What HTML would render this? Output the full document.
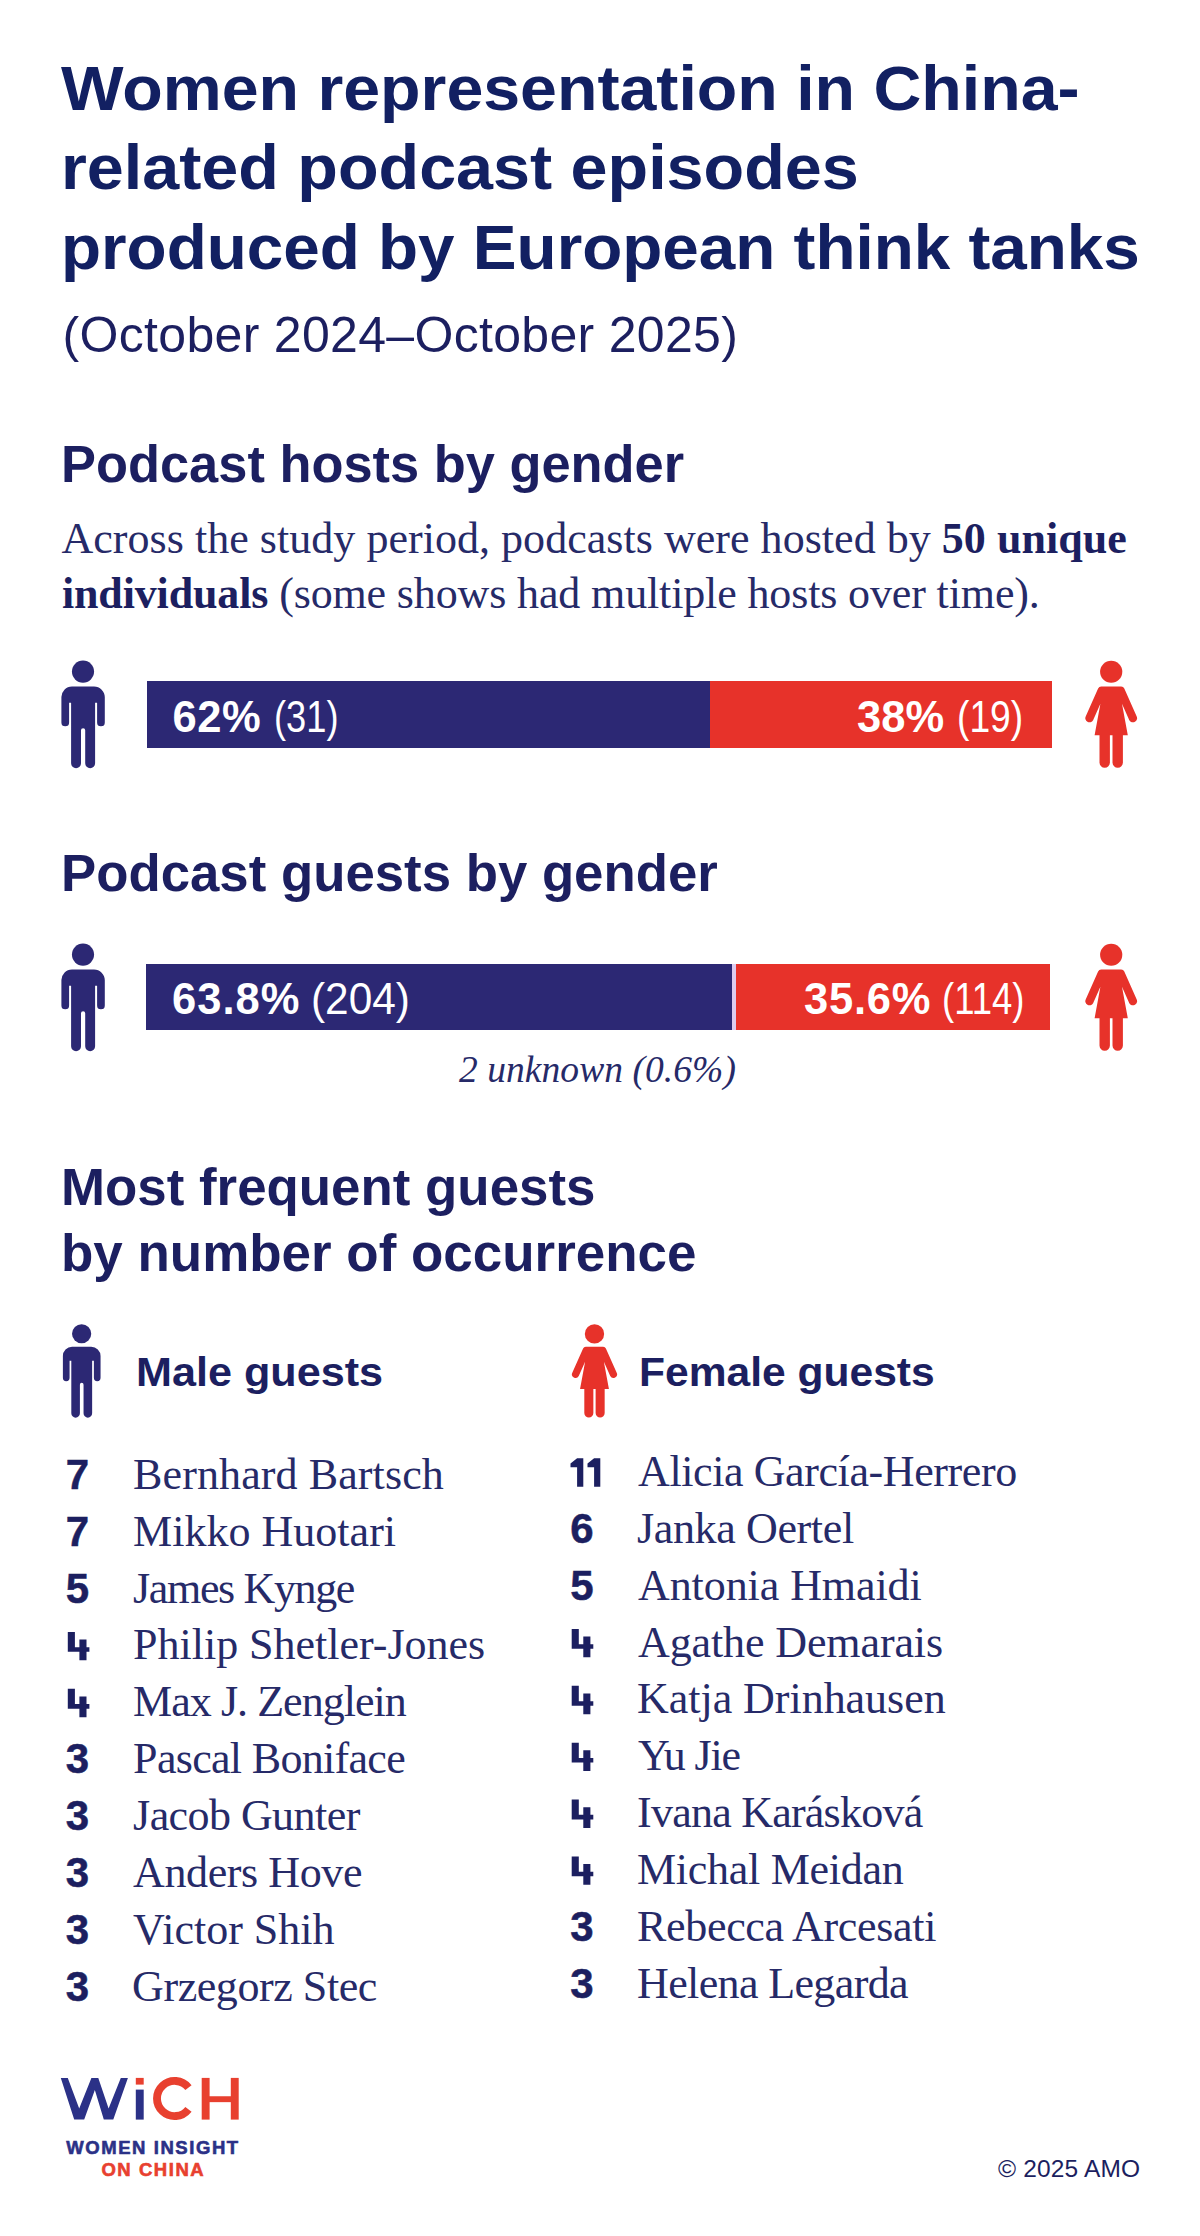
<!DOCTYPE html>
<html><head><meta charset="utf-8"><title>Women representation in China-related podcast episodes</title>
<style>
html,body{margin:0;padding:0;background:#fff;}
body{width:1200px;height:2236px;position:relative;overflow:hidden;font-family:'Liberation Sans', sans-serif;}
.t{position:absolute;white-space:nowrap;}
b{font-weight:700;}
</style></head><body>
<div class="t" style="left:60.75px;top:56.67px;font-family:'Liberation Sans', sans-serif;font-size:62.5px;line-height:62.5px;font-weight:700;font-style:normal;color:#122062;letter-spacing:0.000px;transform:scaleX(1.0602);transform-origin:0 0;">Women representation in China-</div>
<div class="t" style="left:60.50px;top:136.27px;font-family:'Liberation Sans', sans-serif;font-size:62.5px;line-height:62.5px;font-weight:700;font-style:normal;color:#122062;letter-spacing:0.000px;transform:scaleX(1.0632);transform-origin:0 0;">related podcast episodes</div>
<div class="t" style="left:60.50px;top:216.47px;font-family:'Liberation Sans', sans-serif;font-size:62.5px;line-height:62.5px;font-weight:700;font-style:normal;color:#122062;letter-spacing:0.000px;transform:scaleX(1.0495);transform-origin:0 0;">produced by European think tanks</div>
<div class="t" style="left:62.60px;top:310.36px;font-family:'Liberation Sans', sans-serif;font-size:50px;line-height:50px;font-weight:400;font-style:normal;color:#1c1f60;letter-spacing:0.315px;">(October 2024–October 2025)</div>
<div class="t" style="left:61.20px;top:439.31px;font-family:'Liberation Sans', sans-serif;font-size:51px;line-height:51px;font-weight:700;font-style:normal;color:#1c1f60;letter-spacing:0.000px;transform:scaleX(1.0274);transform-origin:0 0;">Podcast hosts by gender</div>
<div class="t" style="left:61.50px;top:516.85px;font-family:'Liberation Serif', serif;font-size:44px;line-height:44px;font-weight:400;font-style:normal;color:#262a68;letter-spacing:0.035px;">Across the study period, podcasts were hosted by <b style="color:#1c1f60">50 unique</b></div>
<div class="t" style="left:61.90px;top:571.65px;font-family:'Liberation Serif', serif;font-size:44px;line-height:44px;font-weight:400;font-style:normal;color:#262a68;letter-spacing:-0.137px;"><b style="color:#1c1f60">individuals</b> (some shows had multiple hosts over time).</div>
<div style="position:absolute;left:147px;top:681px;width:563px;height:67px;background:#2c2874"></div>
<div style="position:absolute;left:710px;top:681px;width:342px;height:67px;background:#e7322a"></div>
<div class="t" style="left:172.50px;top:695.96px;font-family:'Liberation Sans', sans-serif;font-size:43.5px;line-height:43.5px;font-weight:700;font-style:normal;color:#fff;letter-spacing:0.500px;">62%</div>
<div class="t" style="left:274.00px;top:695.96px;font-family:'Liberation Sans', sans-serif;font-size:43.5px;line-height:43.5px;font-weight:400;font-style:normal;color:#fff;letter-spacing:0.000px;transform:scaleX(0.8333);transform-origin:0 0;">(31)</div>
<div class="t" style="left:857.00px;top:695.96px;font-family:'Liberation Sans', sans-serif;font-size:43.5px;line-height:43.5px;font-weight:700;font-style:normal;color:#fff;letter-spacing:0.000px;">38%</div>
<div class="t" style="left:957.00px;top:695.96px;font-family:'Liberation Sans', sans-serif;font-size:43.5px;line-height:43.5px;font-weight:400;font-style:normal;color:#fff;letter-spacing:0.000px;transform:scaleX(0.8561);transform-origin:0 0;">(19)</div>
<svg style="position:absolute;left:50.00px;top:650.00px" width="70.00" height="130.00" viewBox="0 0 70 130"><circle cx="33" cy="21.6" r="11.05" fill="#2c2874"/><path d="M22,36.5 H44 A10.8 10.8 0 0 1 54.8,47.3 V72.4 A3.85 3.85 0 0 1 47.1,72.4 V52.7 H45.1 V113.3 A4.95 4.95 0 0 1 35.2,113.3 V80.3 A2.1 2.1 0 0 0 31,80.3 V113.3 A4.95 4.95 0 0 1 21.1,113.3 V52.7 H19.1 V72.4 A3.85 3.85 0 0 1 11.4,72.4 V47.3 A10.6 10.6 0 0 1 22,36.5 Z" fill="#2c2874"/></svg>
<svg style="position:absolute;left:1075.00px;top:650.00px" width="70.00" height="130.00" viewBox="0 0 70 130"><circle cx="36.2" cy="21.75" r="11.1" fill="#e7322a"/><path d="M26.2,36.5 H46.2 Q48.4,36.5 49.3,38.5 L61.6,66.2 A4.1 4.1 0 0 1 54.3,70.2 L47,53.7 L52.8,85.2 H47.9 V112.6 A5.2 5.2 0 0 1 37.5,112.6 V85.2 H34.9 V112.6 A5.2 5.2 0 0 1 24.5,112.6 V85.2 H19.6 L25.4,53.7 L18.1,70.2 A4.1 4.1 0 0 1 10.8,66.2 L23.1,38.5 Q24,36.5 26.2,36.5 Z" fill="#e7322a"/></svg>
<div class="t" style="left:60.60px;top:848.11px;font-family:'Liberation Sans', sans-serif;font-size:51px;line-height:51px;font-weight:700;font-style:normal;color:#1c1f60;letter-spacing:0.000px;transform:scaleX(1.0346);transform-origin:0 0;">Podcast guests by gender</div>
<div style="position:absolute;left:146px;top:964px;width:586px;height:66px;background:#2c2874"></div>
<div style="position:absolute;left:732px;top:964px;width:4px;height:66px;background:#dccbef"></div>
<div style="position:absolute;left:736px;top:964px;width:314px;height:66px;background:#e7322a"></div>
<div class="t" style="left:172.00px;top:977.96px;font-family:'Liberation Sans', sans-serif;font-size:43.5px;line-height:43.5px;font-weight:700;font-style:normal;color:#fff;letter-spacing:1.000px;">63.8%</div>
<div class="t" style="left:311.00px;top:977.96px;font-family:'Liberation Sans', sans-serif;font-size:43.5px;line-height:43.5px;font-weight:400;font-style:normal;color:#fff;letter-spacing:0.000px;transform:scaleX(0.9740);transform-origin:0 0;">(204)</div>
<div class="t" style="left:804.00px;top:977.96px;font-family:'Liberation Sans', sans-serif;font-size:43.5px;line-height:43.5px;font-weight:700;font-style:normal;color:#fff;letter-spacing:0.750px;">35.6%</div>
<div class="t" style="left:942.00px;top:977.96px;font-family:'Liberation Sans', sans-serif;font-size:43.5px;line-height:43.5px;font-weight:400;font-style:normal;color:#fff;letter-spacing:0.000px;transform:scaleX(0.8387);transform-origin:0 0;">(114)</div>
<svg style="position:absolute;left:50.00px;top:933.30px" width="70.00" height="130.00" viewBox="0 0 70 130"><circle cx="33" cy="21.6" r="11.05" fill="#2c2874"/><path d="M22,36.5 H44 A10.8 10.8 0 0 1 54.8,47.3 V72.4 A3.85 3.85 0 0 1 47.1,72.4 V52.7 H45.1 V113.3 A4.95 4.95 0 0 1 35.2,113.3 V80.3 A2.1 2.1 0 0 0 31,80.3 V113.3 A4.95 4.95 0 0 1 21.1,113.3 V52.7 H19.1 V72.4 A3.85 3.85 0 0 1 11.4,72.4 V47.3 A10.6 10.6 0 0 1 22,36.5 Z" fill="#2c2874"/></svg>
<svg style="position:absolute;left:1075.00px;top:933.30px" width="70.00" height="130.00" viewBox="0 0 70 130"><circle cx="36.2" cy="21.75" r="11.1" fill="#e7322a"/><path d="M26.2,36.5 H46.2 Q48.4,36.5 49.3,38.5 L61.6,66.2 A4.1 4.1 0 0 1 54.3,70.2 L47,53.7 L52.8,85.2 H47.9 V112.6 A5.2 5.2 0 0 1 37.5,112.6 V85.2 H34.9 V112.6 A5.2 5.2 0 0 1 24.5,112.6 V85.2 H19.6 L25.4,53.7 L18.1,70.2 A4.1 4.1 0 0 1 10.8,66.2 L23.1,38.5 Q24,36.5 26.2,36.5 Z" fill="#e7322a"/></svg>
<div class="t" style="left:458.90px;top:1051.30px;font-family:'Liberation Serif', serif;font-size:37.5px;line-height:37.5px;font-weight:400;font-style:italic;color:#262a68;letter-spacing:0.067px;">2 unknown (0.6%)</div>
<div class="t" style="left:60.60px;top:1161.71px;font-family:'Liberation Sans', sans-serif;font-size:51px;line-height:51px;font-weight:700;font-style:normal;color:#1c1f60;letter-spacing:0.000px;transform:scaleX(1.0363);transform-origin:0 0;">Most frequent guests</div>
<div class="t" style="left:60.60px;top:1227.71px;font-family:'Liberation Sans', sans-serif;font-size:51px;line-height:51px;font-weight:700;font-style:normal;color:#1c1f60;letter-spacing:0.000px;transform:scaleX(1.0380);transform-origin:0 0;">by number of occurrence</div>
<svg style="position:absolute;left:52.96px;top:1314.70px" width="60.76" height="112.84" viewBox="0 0 70 130"><circle cx="33" cy="21.6" r="11.05" fill="#2c2874"/><path d="M22,36.5 H44 A10.8 10.8 0 0 1 54.8,47.3 V72.4 A3.85 3.85 0 0 1 47.1,72.4 V52.7 H45.1 V113.3 A4.95 4.95 0 0 1 35.2,113.3 V80.3 A2.1 2.1 0 0 0 31,80.3 V113.3 A4.95 4.95 0 0 1 21.1,113.3 V52.7 H19.1 V72.4 A3.85 3.85 0 0 1 11.4,72.4 V47.3 A10.6 10.6 0 0 1 22,36.5 Z" fill="#2c2874"/></svg>
<svg style="position:absolute;left:563.00px;top:1314.90px" width="60.90" height="113.10" viewBox="0 0 70 130"><circle cx="36.2" cy="21.75" r="11.1" fill="#e7322a"/><path d="M26.2,36.5 H46.2 Q48.4,36.5 49.3,38.5 L61.6,66.2 A4.1 4.1 0 0 1 54.3,70.2 L47,53.7 L52.8,85.2 H47.9 V112.6 A5.2 5.2 0 0 1 37.5,112.6 V85.2 H34.9 V112.6 A5.2 5.2 0 0 1 24.5,112.6 V85.2 H19.6 L25.4,53.7 L18.1,70.2 A4.1 4.1 0 0 1 10.8,66.2 L23.1,38.5 Q24,36.5 26.2,36.5 Z" fill="#e7322a"/></svg>
<div class="t" style="left:135.60px;top:1351.68px;font-family:'Liberation Sans', sans-serif;font-size:41px;line-height:41px;font-weight:700;font-style:normal;color:#1c1f60;letter-spacing:0.000px;transform:scaleX(1.0527);transform-origin:0 0;">Male guests</div>
<div class="t" style="left:638.60px;top:1351.68px;font-family:'Liberation Sans', sans-serif;font-size:41px;line-height:41px;font-weight:700;font-style:normal;color:#1c1f60;letter-spacing:0.000px;transform:scaleX(1.0380);transform-origin:0 0;">Female guests</div>
<div class="t" style="left:65.80px;top:1454.13px;font-family:'Liberation Sans', sans-serif;font-size:42px;line-height:42px;font-weight:700;font-style:normal;color:#1c1f60;letter-spacing:0.000px;-webkit-text-stroke:0.5px #1c1f60;">7</div>
<div class="t" style="left:133.10px;top:1452.85px;font-family:'Liberation Serif', serif;font-size:44px;line-height:44px;font-weight:400;font-style:normal;color:#262a68;letter-spacing:0.104px;">Bernhard Bartsch</div>
<div class="t" style="left:65.80px;top:1511.00px;font-family:'Liberation Sans', sans-serif;font-size:42px;line-height:42px;font-weight:700;font-style:normal;color:#1c1f60;letter-spacing:0.000px;-webkit-text-stroke:0.5px #1c1f60;">7</div>
<div class="t" style="left:133.10px;top:1509.72px;font-family:'Liberation Serif', serif;font-size:44px;line-height:44px;font-weight:400;font-style:normal;color:#262a68;letter-spacing:0.015px;">Mikko Huotari</div>
<div class="t" style="left:65.80px;top:1567.87px;font-family:'Liberation Sans', sans-serif;font-size:42px;line-height:42px;font-weight:700;font-style:normal;color:#1c1f60;letter-spacing:0.000px;-webkit-text-stroke:0.5px #1c1f60;">5</div>
<div class="t" style="left:133.10px;top:1566.59px;font-family:'Liberation Serif', serif;font-size:44px;line-height:44px;font-weight:400;font-style:normal;color:#262a68;letter-spacing:-1.360px;">James Kynge</div>
<svg style="position:absolute;left:0;top:0;overflow:visible" width="1" height="1"><path fill="#1c1f60" d="M67.80,1631.91 h7.1 v15.3 h4.5 v-7.7 h7.1 v7.7 h2.9 v4.6 h-2.9 v8.5 h-7.1 v-8.5 h-11.6 Z"/></svg>
<div class="t" style="left:133.10px;top:1623.46px;font-family:'Liberation Serif', serif;font-size:44px;line-height:44px;font-weight:400;font-style:normal;color:#262a68;letter-spacing:-0.017px;">Philip Shetler-Jones</div>
<svg style="position:absolute;left:0;top:0;overflow:visible" width="1" height="1"><path fill="#1c1f60" d="M67.80,1688.78 h7.1 v15.3 h4.5 v-7.7 h7.1 v7.7 h2.9 v4.6 h-2.9 v8.5 h-7.1 v-8.5 h-11.6 Z"/></svg>
<div class="t" style="left:133.10px;top:1680.33px;font-family:'Liberation Serif', serif;font-size:44px;line-height:44px;font-weight:400;font-style:normal;color:#262a68;letter-spacing:-0.960px;">Max J. Zenglein</div>
<div class="t" style="left:65.80px;top:1738.48px;font-family:'Liberation Sans', sans-serif;font-size:42px;line-height:42px;font-weight:700;font-style:normal;color:#1c1f60;letter-spacing:0.000px;-webkit-text-stroke:0.5px #1c1f60;">3</div>
<div class="t" style="left:133.10px;top:1737.20px;font-family:'Liberation Serif', serif;font-size:44px;line-height:44px;font-weight:400;font-style:normal;color:#262a68;letter-spacing:-0.683px;">Pascal Boniface</div>
<div class="t" style="left:65.80px;top:1795.35px;font-family:'Liberation Sans', sans-serif;font-size:42px;line-height:42px;font-weight:700;font-style:normal;color:#1c1f60;letter-spacing:0.000px;-webkit-text-stroke:0.5px #1c1f60;">3</div>
<div class="t" style="left:133.10px;top:1794.07px;font-family:'Liberation Serif', serif;font-size:44px;line-height:44px;font-weight:400;font-style:normal;color:#262a68;letter-spacing:-0.561px;">Jacob Gunter</div>
<div class="t" style="left:65.80px;top:1852.22px;font-family:'Liberation Sans', sans-serif;font-size:42px;line-height:42px;font-weight:700;font-style:normal;color:#1c1f60;letter-spacing:0.000px;-webkit-text-stroke:0.5px #1c1f60;">3</div>
<div class="t" style="left:133.10px;top:1850.94px;font-family:'Liberation Serif', serif;font-size:44px;line-height:44px;font-weight:400;font-style:normal;color:#262a68;letter-spacing:-0.400px;">Anders Hove</div>
<div class="t" style="left:65.80px;top:1909.09px;font-family:'Liberation Sans', sans-serif;font-size:42px;line-height:42px;font-weight:700;font-style:normal;color:#1c1f60;letter-spacing:0.000px;-webkit-text-stroke:0.5px #1c1f60;">3</div>
<div class="t" style="left:133.10px;top:1907.81px;font-family:'Liberation Serif', serif;font-size:44px;line-height:44px;font-weight:400;font-style:normal;color:#262a68;letter-spacing:0.000px;">Victor Shih</div>
<div class="t" style="left:65.80px;top:1965.96px;font-family:'Liberation Sans', sans-serif;font-size:42px;line-height:42px;font-weight:700;font-style:normal;color:#1c1f60;letter-spacing:0.000px;-webkit-text-stroke:0.5px #1c1f60;">3</div>
<div class="t" style="left:132.10px;top:1964.68px;font-family:'Liberation Serif', serif;font-size:44px;line-height:44px;font-weight:400;font-style:normal;color:#262a68;letter-spacing:-0.432px;">Grzegorz Stec</div>
<svg style="position:absolute;left:0;top:0;overflow:visible" width="1" height="1"><path fill="#1c1f60" d="M570.50,1463.45 L577.10,1458.15 H583.30 V1486.75 H577.10 V1467.15 H570.50 Z"/></svg>
<svg style="position:absolute;left:0;top:0;overflow:visible" width="1" height="1"><path fill="#1c1f60" d="M587.50,1463.45 L594.10,1458.15 H600.30 V1486.75 H594.10 V1467.15 H587.50 Z"/></svg>
<div class="t" style="left:638.00px;top:1449.90px;font-family:'Liberation Serif', serif;font-size:44px;line-height:44px;font-weight:400;font-style:normal;color:#262a68;letter-spacing:-0.400px;">Alicia García-Herrero</div>
<div class="t" style="left:570.30px;top:1508.05px;font-family:'Liberation Sans', sans-serif;font-size:42px;line-height:42px;font-weight:700;font-style:normal;color:#1c1f60;letter-spacing:0.000px;-webkit-text-stroke:0.5px #1c1f60;">6</div>
<div class="t" style="left:637.00px;top:1506.77px;font-family:'Liberation Serif', serif;font-size:44px;line-height:44px;font-weight:400;font-style:normal;color:#262a68;letter-spacing:-0.364px;">Janka Oertel</div>
<div class="t" style="left:570.30px;top:1564.92px;font-family:'Liberation Sans', sans-serif;font-size:42px;line-height:42px;font-weight:700;font-style:normal;color:#1c1f60;letter-spacing:0.000px;-webkit-text-stroke:0.5px #1c1f60;">5</div>
<div class="t" style="left:638.00px;top:1563.64px;font-family:'Liberation Serif', serif;font-size:44px;line-height:44px;font-weight:400;font-style:normal;color:#262a68;letter-spacing:-0.076px;">Antonia Hmaidi</div>
<svg style="position:absolute;left:0;top:0;overflow:visible" width="1" height="1"><path fill="#1c1f60" d="M571.70,1628.96 h7.1 v15.3 h4.5 v-7.7 h7.1 v7.7 h2.9 v4.6 h-2.9 v8.5 h-7.1 v-8.5 h-11.6 Z"/></svg>
<div class="t" style="left:638.00px;top:1620.51px;font-family:'Liberation Serif', serif;font-size:44px;line-height:44px;font-weight:400;font-style:normal;color:#262a68;letter-spacing:-0.111px;">Agathe Demarais</div>
<svg style="position:absolute;left:0;top:0;overflow:visible" width="1" height="1"><path fill="#1c1f60" d="M571.70,1685.83 h7.1 v15.3 h4.5 v-7.7 h7.1 v7.7 h2.9 v4.6 h-2.9 v8.5 h-7.1 v-8.5 h-11.6 Z"/></svg>
<div class="t" style="left:637.00px;top:1677.38px;font-family:'Liberation Serif', serif;font-size:44px;line-height:44px;font-weight:400;font-style:normal;color:#262a68;letter-spacing:-0.030px;">Katja Drinhausen</div>
<svg style="position:absolute;left:0;top:0;overflow:visible" width="1" height="1"><path fill="#1c1f60" d="M571.70,1742.70 h7.1 v15.3 h4.5 v-7.7 h7.1 v7.7 h2.9 v4.6 h-2.9 v8.5 h-7.1 v-8.5 h-11.6 Z"/></svg>
<div class="t" style="left:638.00px;top:1734.25px;font-family:'Liberation Serif', serif;font-size:44px;line-height:44px;font-weight:400;font-style:normal;color:#262a68;letter-spacing:-1.160px;">Yu Jie</div>
<svg style="position:absolute;left:0;top:0;overflow:visible" width="1" height="1"><path fill="#1c1f60" d="M571.70,1799.57 h7.1 v15.3 h4.5 v-7.7 h7.1 v7.7 h2.9 v4.6 h-2.9 v8.5 h-7.1 v-8.5 h-11.6 Z"/></svg>
<div class="t" style="left:637.00px;top:1791.12px;font-family:'Liberation Serif', serif;font-size:44px;line-height:44px;font-weight:400;font-style:normal;color:#262a68;letter-spacing:-0.758px;">Ivana Karásková</div>
<svg style="position:absolute;left:0;top:0;overflow:visible" width="1" height="1"><path fill="#1c1f60" d="M571.70,1856.44 h7.1 v15.3 h4.5 v-7.7 h7.1 v7.7 h2.9 v4.6 h-2.9 v8.5 h-7.1 v-8.5 h-11.6 Z"/></svg>
<div class="t" style="left:637.00px;top:1847.99px;font-family:'Liberation Serif', serif;font-size:44px;line-height:44px;font-weight:400;font-style:normal;color:#262a68;letter-spacing:-0.284px;">Michal Meidan</div>
<div class="t" style="left:570.30px;top:1906.14px;font-family:'Liberation Sans', sans-serif;font-size:42px;line-height:42px;font-weight:700;font-style:normal;color:#1c1f60;letter-spacing:0.000px;-webkit-text-stroke:0.5px #1c1f60;">3</div>
<div class="t" style="left:637.00px;top:1904.86px;font-family:'Liberation Serif', serif;font-size:44px;line-height:44px;font-weight:400;font-style:normal;color:#262a68;letter-spacing:-0.318px;">Rebecca Arcesati</div>
<div class="t" style="left:570.30px;top:1963.01px;font-family:'Liberation Sans', sans-serif;font-size:42px;line-height:42px;font-weight:700;font-style:normal;color:#1c1f60;letter-spacing:0.000px;-webkit-text-stroke:0.5px #1c1f60;">3</div>
<div class="t" style="left:637.00px;top:1961.73px;font-family:'Liberation Serif', serif;font-size:44px;line-height:44px;font-weight:400;font-style:normal;color:#262a68;letter-spacing:-0.625px;">Helena Legarda</div>
<svg style="position:absolute;left:0;top:2060px" width="260" height="130" viewBox="0 2060 260 130">
<polygon fill="#2b3187" points="60.8,2077.9 67.8,2077.9 79.2,2108.5 91.4,2077.9 98.3,2077.9 108.6,2108.5 120.8,2077.9 127.9,2077.9 113.3,2119.6 103.8,2119.6 94.85,2090 84.2,2119.6 74.2,2119.6"/>
<rect fill="#e8402f" x="135.8" y="2077.9" width="7.9" height="6.7"/>
<rect fill="#2b3187" x="135.8" y="2089.6" width="7.9" height="30"/>
<path fill="none" stroke="#e8402f" stroke-width="7.9" d="M188.47,2087.66 A17.6 17.6 0 1 0 188.47,2109.34"/>
<rect fill="#e8402f" x="201.7" y="2077.9" width="7.9" height="41.7"/>
<rect fill="#e8402f" x="230.8" y="2077.9" width="7.9" height="41.7"/>
<rect fill="#e8402f" x="205" y="2096.25" width="30" height="5.9"/>
</svg>
<div class="t" style="left:66.20px;top:2138.73px;font-family:'Liberation Sans', sans-serif;font-size:18.5px;line-height:18.5px;font-weight:700;font-style:normal;color:#2b3187;letter-spacing:1.568px;-webkit-text-stroke:0.6px #2b3187;">WOMEN INSIGHT</div>
<div class="t" style="left:101.40px;top:2160.73px;font-family:'Liberation Sans', sans-serif;font-size:18.5px;line-height:18.5px;font-weight:700;font-style:normal;color:#e8402f;letter-spacing:1.540px;-webkit-text-stroke:0.6px #e8402f;">ON CHINA</div>
<div class="t" style="left:998.10px;top:2156.75px;font-family:'Liberation Sans', sans-serif;font-size:24.5px;line-height:24.5px;font-weight:400;font-style:normal;color:#1c1f60;letter-spacing:0.157px;">© 2025 AMO</div>
</body></html>
